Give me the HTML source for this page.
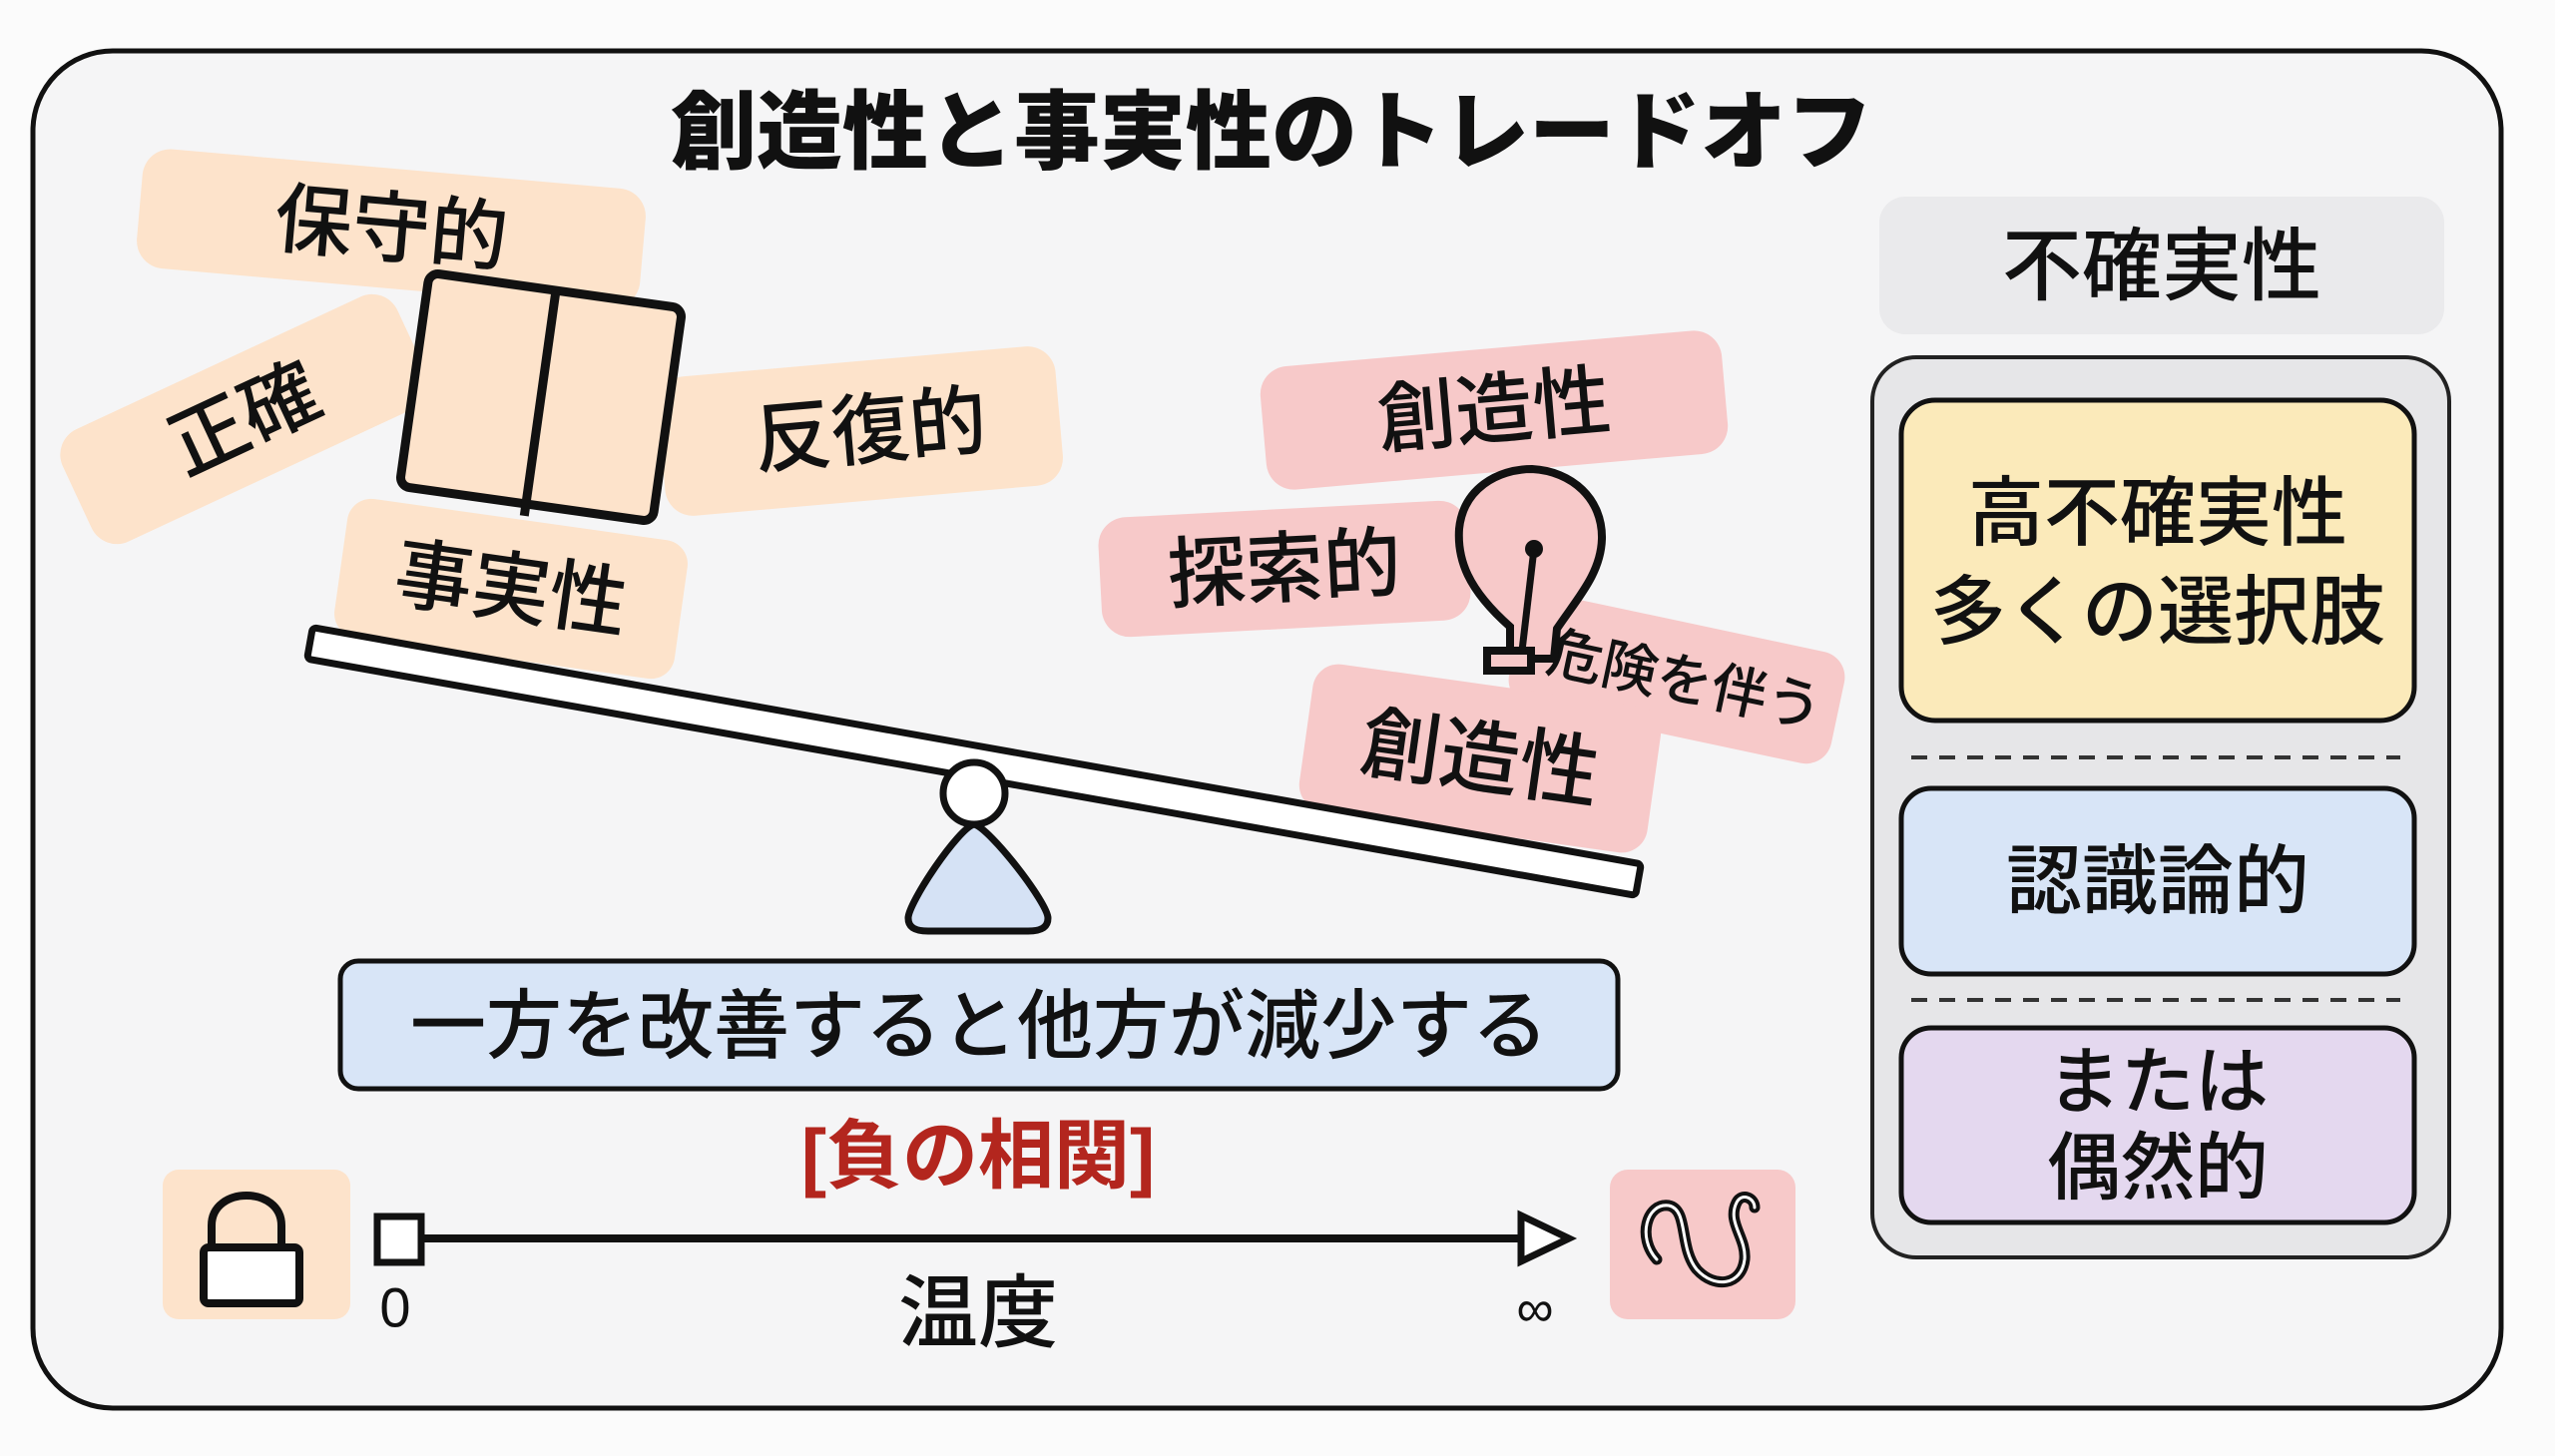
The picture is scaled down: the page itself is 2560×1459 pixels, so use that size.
<!DOCTYPE html>
<html><head><meta charset="utf-8"><style>
html,body{margin:0;padding:0;background:#fbfbfb;}
svg{display:block;}
text{font-family:"Liberation Sans","Noto Sans CJK JP",sans-serif;fill:#111;text-anchor:middle;dominant-baseline:central;font-weight:500;}
</style></head><body>
<svg width="2560" height="1459" viewBox="0 0 2560 1459" xmlns="http://www.w3.org/2000/svg">
<rect x="0" y="0" width="2560" height="1459" fill="#fbfbfb"/>
<rect x="33" y="51" width="2473" height="1360" rx="80" fill="#f5f5f6" stroke="#111" stroke-width="5"/>
<text x="1274" y="133" font-size="86" font-weight="bold" style="font-weight:900">創造性と事実性のトレードオフ</text>

<!-- left labels -->
<g transform="translate(392,229) rotate(5)"><rect x="-253" y="-60" width="506" height="120" rx="28" fill="#fde3cb"/><text x="0" y="0" font-size="78">保守的</text></g>
<g transform="translate(245,420) rotate(-25)"><rect x="-185" y="-62" width="370" height="124" rx="28" fill="#fde3cb"/><text x="0" y="0" font-size="78">正確</text></g>
<g transform="translate(862,432) rotate(-5)"><rect x="-200" y="-70" width="400" height="140" rx="28" fill="#fde3cb"/><text x="10" y="0" font-size="78">反復的</text></g>
<g transform="translate(512,590) rotate(8)"><rect x="-172" y="-70" width="344" height="140" rx="24" fill="#fde3cb"/><text x="0" y="0" font-size="78">事実性</text></g>
<!-- book -->
<g transform="translate(542,398) rotate(8)">
<rect x="-128" y="-108" width="256" height="216" rx="10" fill="#fde3cb" stroke="#111" stroke-width="9"/>
<line x1="0" y1="-108" x2="0" y2="120" stroke="#111" stroke-width="9"/>
</g>

<!-- right labels -->
<g transform="translate(1497,411) rotate(-5)"><rect x="-232" y="-62" width="464" height="124" rx="28" fill="#f7c9c9"/><text x="0" y="0" font-size="78">創造性</text></g>
<g transform="translate(1287,570) rotate(-3)"><rect x="-185" y="-60" width="370" height="120" rx="28" fill="#f7c9c9"/><text x="0" y="0" font-size="78">探索的</text></g>
<g transform="translate(1680,680) rotate(12)"><rect x="-165" y="-57" width="330" height="114" rx="26" fill="#f7c9c9"/><text x="8" y="0" font-size="56">危険を伴う</text></g>
<g transform="translate(1483,760) rotate(8)"><rect x="-176" y="-74" width="352" height="148" rx="26" fill="#f7c9c9"/><text x="0" y="0" font-size="80">創造性</text></g>
<!-- bulb -->
<path d="M1513,660 L1513,628 C1470,590 1460,560 1462,530 C1466,490 1500,470 1535,470 C1575,472 1606,500 1605,540 C1604,575 1580,600 1560,630 L1557,660 Z" fill="#f7c9c9" stroke="#111" stroke-width="8"/>
<rect x="1490" y="652" width="44" height="20" fill="#f7c9c9" stroke="#111" stroke-width="8"/>
<circle cx="1537" cy="550" r="9" fill="#111"/>
<line x1="1537" y1="550" x2="1525" y2="652" stroke="#111" stroke-width="7"/>

<!-- seesaw -->
<g transform="translate(976,763) rotate(10.1)">
<rect x="-676" y="-16" width="1352" height="32" rx="4" fill="#fff" stroke="#111" stroke-width="7"/>
</g>
<path d="M976,826 C960,830 910,905 910,920 C910,930 918,933 930,933 L1030,933 C1042,933 1050,930 1050,920 C1050,905 992,830 976,826 Z" fill="#d5e2f5" stroke="#111" stroke-width="7"/>
<circle cx="976" cy="795" r="31" fill="#fff" stroke="#111" stroke-width="7"/>

<!-- statement -->
<rect x="341" y="963" width="1280" height="128" rx="18" fill="#d8e5f7" stroke="#111" stroke-width="5"/>
<text x="981" y="1029" font-size="76">一方を改善すると他方が減少する</text>
<text x="980" y="1159" font-size="76" font-weight="bold" style="fill:#b3261e;font-weight:700">[負の相関]</text>

<!-- axis -->
<rect x="163" y="1172" width="188" height="150" rx="16" fill="#fde3cb"/>
<path d="M212,1268 L212,1228 C212,1188 282,1188 282,1228 L282,1268" fill="none" stroke="#111" stroke-width="8"/>
<rect x="204" y="1250" width="96" height="56" rx="5" fill="#fff" stroke="#111" stroke-width="8"/>
<rect x="1613" y="1172" width="186" height="150" rx="18" fill="#f7c9c9"/>
<path d="M1660,1262 C1640,1240 1650,1205 1672,1208 C1692,1212 1682,1250 1700,1272 C1718,1292 1745,1288 1748,1262 C1750,1240 1730,1225 1740,1205 C1745,1195 1758,1200 1758,1210" fill="none" stroke="#111" stroke-width="11" stroke-linecap="round"/>
<path d="M1660,1262 C1640,1240 1650,1205 1672,1208 C1692,1212 1682,1250 1700,1272 C1718,1292 1745,1288 1748,1262 C1750,1240 1730,1225 1740,1205 C1745,1195 1758,1200 1758,1210" fill="none" stroke="#fff" stroke-width="3" stroke-linecap="round"/>
<line x1="421" y1="1241" x2="1530" y2="1241" stroke="#111" stroke-width="8"/>
<rect x="378" y="1219" width="44" height="46" fill="#fff" stroke="#111" stroke-width="7"/>
<path d="M1524,1218 L1572,1241 L1524,1264 Z" fill="#fff" stroke="#111" stroke-width="7"/>
<text x="396" y="1310" font-size="56">0</text>
<text x="1538" y="1312" font-size="52">∞</text>
<text x="980" y="1316" font-size="80">温度</text>

<!-- right panel -->
<rect x="1883" y="197" width="566" height="138" rx="26" fill="#eaeaec"/>
<text x="2166" y="267" font-size="80">不確実性</text>
<rect x="1876" y="358" width="578" height="902" rx="44" fill="#e6e6e8" stroke="#222" stroke-width="4"/>
<rect x="1905" y="401" width="514" height="321" rx="34" fill="#fbeaba" stroke="#111" stroke-width="5"/>
<text x="2162" y="515" font-size="76">高不確実性</text>
<text x="2162" y="614" font-size="76">多くの選択肢</text>
<line x1="1915" y1="759" x2="2405" y2="759" stroke="#333" stroke-width="4" stroke-dasharray="16,12"/>
<rect x="1905" y="790" width="514" height="186" rx="30" fill="#d8e5f7" stroke="#111" stroke-width="5"/>
<text x="2162" y="884" font-size="76">認識論的</text>
<line x1="1915" y1="1002" x2="2405" y2="1002" stroke="#333" stroke-width="4" stroke-dasharray="16,12"/>
<rect x="1905" y="1030" width="514" height="195" rx="30" fill="#e4d8ef" stroke="#111" stroke-width="5"/>
<text x="2162" y="1084" font-size="74">または</text>
<text x="2162" y="1170" font-size="74">偶然的</text>
</svg>
</body></html>
